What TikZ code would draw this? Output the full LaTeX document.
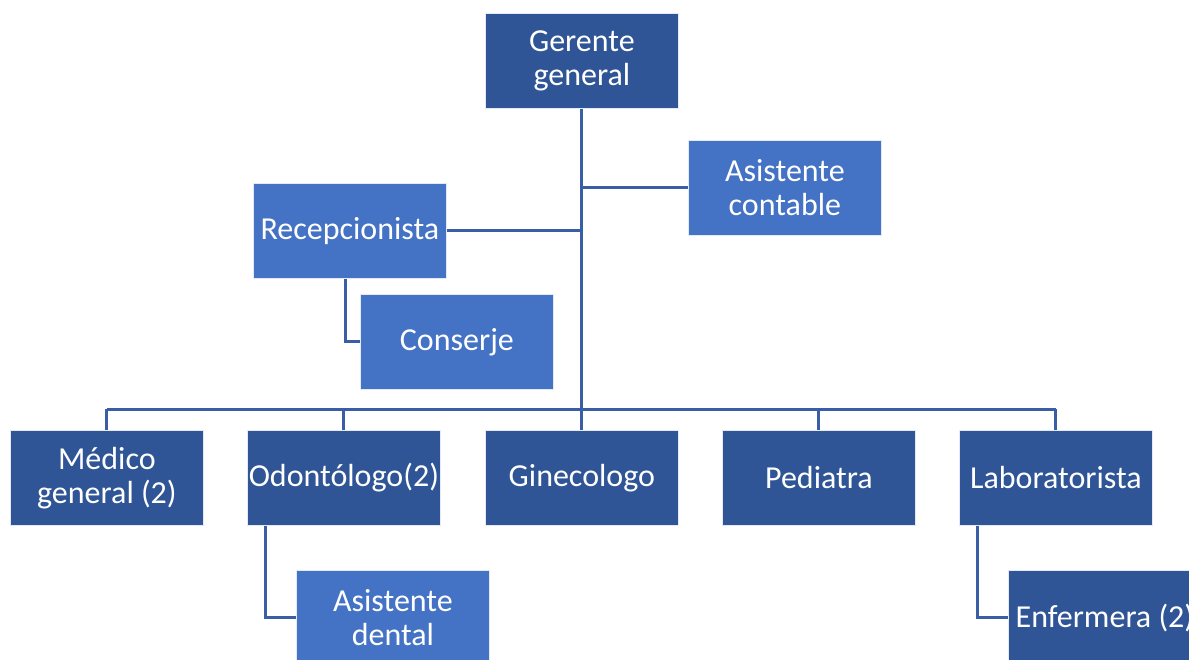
\documentclass[tikz,border=0pt]{standalone}
\usepackage{fontspec}
\setmainfont{Carlito}
\definecolor{boxdark}{HTML}{2F5597}
\definecolor{boxlight}{HTML}{4472C4}
\definecolor{linkblue}{HTML}{3A5EA6}
\begin{document}
\begin{tikzpicture}[x=1pt,y=-1pt,
  unit/.style={draw=white!85!boxlight,line width=0.8pt,minimum width=193pt,minimum height=95pt,
    inner sep=0pt,align=center,text=white,font=\fontsize{32}{34}\selectfont,anchor=north west},
  dark/.style={unit,fill=boxdark},
  light/.style={unit,fill=boxlight},
  link/.style={draw=linkblue,line width=3pt}]
\useasboundingbox (0,0) rectangle (1189,659);
\clip (0,0) rectangle (1189,659);
% top level
\node[dark] (gm) at (485,13) {Gerente\\general};
% staff positions
\node[light] (ac) at (688,140) {Asistente\\contable};
\node[light] (rec) at (253,183) {Recepcionista};
\node[light] (con) at (360,294) {Conserje};
% departments
\node[dark] (med) at (10,430) {Médico\\general (2)};
\node[dark] (odo) at (247,430) {Odontólogo(2)};
\node[dark] (gin) at (485,430) {Ginecologo};
\node[dark] (ped) at (722,430) {Pediatra};
\node[dark] (lab) at (959,430) {Laboratorista};
% assistants
\node[light] (ad) at (296,570) {Asistente\\dental};
\node[dark] (enf) at (1008,570) {Enfermera (2)};
% connector junctions
\coordinate (bus) at (gm.south |- 0,409);
% trunk and side branches
\draw[link] (gm.south) -- (bus);
\draw[link] (ac.west) -- (ac.west -| gm.south);
\draw[link] (rec.east) -- (rec.east -| gm.south);
\draw[link] ([xshift=-4pt]rec.south) |- (con.west);
% bus to departments
\draw[link] (med.north |- bus) -- (lab.north |- bus);
\foreach \d in {med,odo,gin,ped,lab}
  \draw[link] (\d.north |- bus) -- (\d.north);
% assistants under departments
\draw[link] ([xshift=-78pt]odo.south) |- (ad.west);
\draw[link] ([xshift=-78pt]lab.south) |- (enf.west);
\end{tikzpicture}
\end{document}
